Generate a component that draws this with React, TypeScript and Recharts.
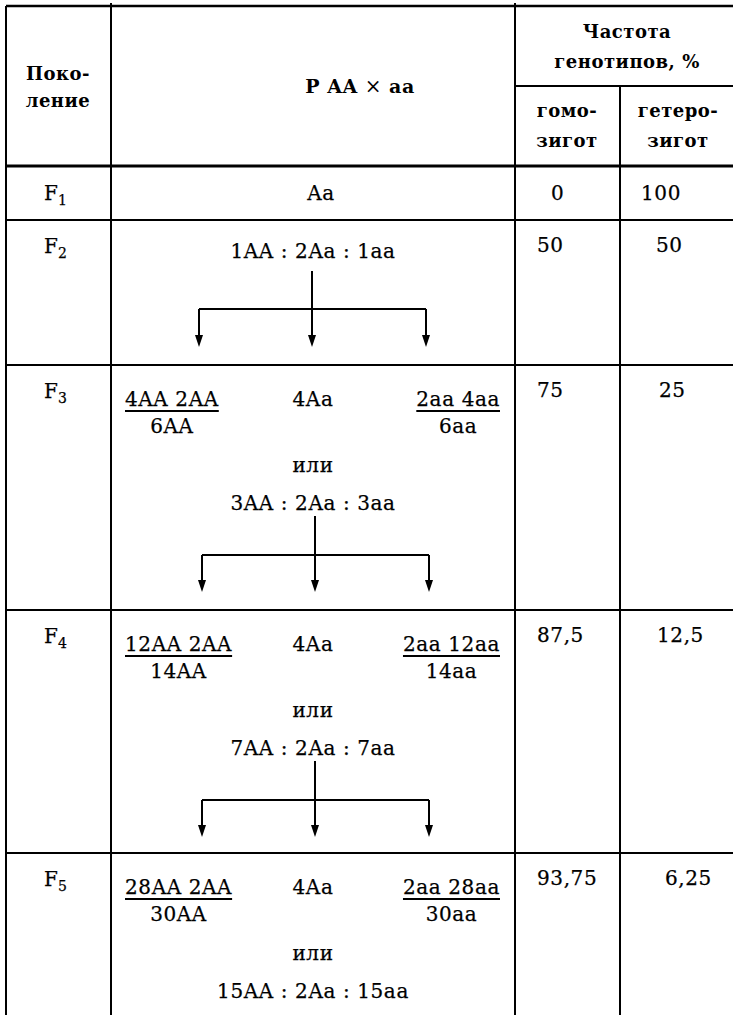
import React, { useLayoutEffect, useRef, useState } from "react";
import { ReferenceLine, Scatter, ScatterChart, XAxis, YAxis } from "recharts";

// table content
const HEADER_GEN = ["Поко-", "ление"];
const HEADER_FREQ = ["Частота", "генотипов, %"];
const HEADER_HOMO = ["гомо-", "зигот"];
const HEADER_HETERO = ["гетеро-", "зигот"];
const CROSS = ["P AA ", "×", " aa"];
const GENERATIONS = ["1", "2", "3", "4", "5"];
const F1_OFFSPRING = "Aa";
const RATIOS = ["1AA : 2Aa : 1aa", "3AA : 2Aa : 3aa", "7AA : 2Aa : 7aa", "15AA : 2Aa : 15aa"];
const DOMINANT_SUM = ["4AA 2AA", "12AA 2AA", "28AA 2AA"];
const DOMINANT_TOTAL = ["6AA", "14AA", "30AA"];
const HETERO_PART = ["4Aa", "4Aa", "4Aa"];
const RECESSIVE_SUM = ["2aa 4aa", "2aa 12aa", "2aa 28aa"];
const RECESSIVE_TOTAL = ["6aa", "14aa", "30aa"];
const OR_WORD = "или";
const HOMOZYGOUS = ["0", "50", "75", "87,5", "93,75"];
const HETEROZYGOUS = ["100", "50", "25", "12,5", "6,25"];

// layout
const W = 733;
const H = 1015;
const COL = { left: 6, gen: 111, cross: 515, het: 620, right: W };
const HEAD = { top: 6, split: 86, bottom: 166 };
const ROW_TOP = [166, 220, 365, 610, 853];
const GEN_BASE = [200, 253, 398, 643, 886];
const VALUE_BASE = [200, 252, 397, 642, 885];
const HOMO_X = [551, 537, 537, 537, 537];
const HET_X = [641, 656, 659, 657, 665];
const BRANCH_X = [
  [199, 312, 426],
  [202, 315, 429],
  [202, 315, 429],
];
const FONT = "'DejaVu Serif', serif";

const STYLES: Record<string, any> = {
  head: { fontSize: 18, fontWeight: 700, letterSpacing: 0.5, anchor: "middle" },
  body: { fontSize: 20, fontWeight: 400, letterSpacing: 0.6, anchor: "middle" },
  value: { fontSize: 20, fontWeight: 400, letterSpacing: 0.6, anchor: "start" },
  gen: { fontSize: 20, fontWeight: 400, letterSpacing: 0, anchor: "start" },
};

const ratioBase = (row: number) => (row === 1 ? 258 : ROW_TOP[row] + 145);
const stemTop = (row: number) => (row === 1 ? 271 : ROW_TOP[row] + 151);
const barY = (row: number) => (row === 1 ? 309 : ROW_TOP[row] + 190);
const tipY = (row: number) => (row === 1 ? 347 : ROW_TOP[row] + 227);

const labels: any[] = [
  ...HEADER_GEN.map((t, i) => ({ x: 58, y: 80 + i * 27, text: t, kind: "head" })),
  ...HEADER_FREQ.map((t, i) => ({ x: 627, y: 38 + i * 30, text: t, kind: "head" })),
  ...HEADER_HOMO.map((t, i) => ({ x: 567, y: 117 + i * 30, text: t, kind: "head" })),
  ...HEADER_HETERO.map((t, i) => ({ x: 678, y: 117 + i * 30, text: t, kind: "head" })),
  { x: 360, y: 93, text: "", kind: "cross" },
  ...GENERATIONS.map((g, i) => ({ x: 44, y: GEN_BASE[i], text: "F", sub: g, kind: "gen" })),
  ...HOMOZYGOUS.map((v, i) => ({ x: HOMO_X[i], y: VALUE_BASE[i], text: v, kind: "value" })),
  ...HETEROZYGOUS.map((v, i) => ({ x: HET_X[i], y: VALUE_BASE[i], text: v, kind: "value" })),
  { x: 321, y: 200, text: F1_OFFSPRING, kind: "body" },
  ...RATIOS.map((r, i) => ({ x: 313, y: ratioBase(i + 1), text: r, kind: "body" })),
  ...HETERO_PART.map((t, i) => ({ x: 313, y: ROW_TOP[i + 2] + 41, text: t, kind: "body" })),
  ...HETERO_PART.map((_, i) => ({ x: 313, y: ROW_TOP[i + 2] + 107, text: OR_WORD, kind: "body" })),
];

const fractions = [
  ...DOMINANT_SUM.map((n, i) => ({ x: 125, y: ROW_TOP[i + 2] + 41, num: n, den: DOMINANT_TOTAL[i], align: "start" })),
  ...RECESSIVE_SUM.map((n, i) => ({ x: 500, y: ROW_TOP[i + 2] + 41, num: n, den: RECESSIVE_TOTAL[i], align: "end" })),
];

const arrows = BRANCH_X.flatMap((xs, i) => xs.map((x) => ({ x, y: tipY(i + 1) })));

const gridLines = [
  { a: [COL.left, HEAD.top], b: [COL.right, HEAD.top], w: 2.5 },
  { a: [COL.cross, HEAD.split], b: [COL.right, HEAD.split], w: 2 },
  { a: [COL.left, HEAD.bottom], b: [COL.right, HEAD.bottom], w: 3 },
  ...ROW_TOP.slice(1).map((y) => ({ a: [COL.left, y], b: [COL.right, y], w: 2 })),
  { a: [COL.left, HEAD.top], b: [COL.left, H], w: 2 },
  { a: [COL.gen, 3], b: [COL.gen, H], w: 2 },
  { a: [COL.cross, 3], b: [COL.cross, H], w: 2 },
  { a: [COL.het, HEAD.split], b: [COL.het, H], w: 2 },
];

const treeLines = BRANCH_X.flatMap((xs, i) => {
  const row = i + 1;
  const bar = barY(row);
  return [
    { a: [xs[1], stemTop(row)], b: [xs[1], bar], w: 2 },
    { a: [xs[0], bar], b: [xs[2], bar], w: 2 },
    ...xs.map((x) => ({ a: [x, bar], b: [x, tipY(row) - 6], w: 2 })),
  ];
});

// faint outline makes DejaVu look closer to the heavier book face
const INK = { fill: "#000", stroke: "#000", strokeWidth: 0.25 };

function LabelMark(props: any) {
  const { cx, cy } = props;
  const p = props.payload ?? props;
  if (p.kind === "cross") {
    return (
      <text x={cx} y={cy} textAnchor="middle" fontFamily={FONT} fontSize={19} fontWeight={700} letterSpacing={0.5} fill="#000">
        <tspan>{CROSS[0]}</tspan>
        <tspan fontWeight={400} fontSize={20}>{CROSS[1]}</tspan>
        <tspan>{CROSS[2]}</tspan>
      </text>
    );
  }
  const s = STYLES[p.kind];
  return (
    <text
      x={cx}
      y={cy}
      textAnchor={s.anchor}
      fontFamily={FONT}
      fontSize={s.fontSize}
      fontWeight={s.fontWeight}
      letterSpacing={s.letterSpacing}
      {...(s.fontWeight === 400 ? INK : { fill: "#000" })}
    >
      {p.text}
      {p.sub && (
        <tspan fontSize={14} dy={5}>
          {p.sub}
        </tspan>
      )}
    </text>
  );
}

function FractionMark(props: any) {
  const { cx, cy } = props;
  const p = props.payload ?? props;
  const ref = useRef<SVGTextElement>(null);
  const [w, setW] = useState(0);
  useLayoutEffect(() => {
    if (ref.current) setW(ref.current.getComputedTextLength());
  }, [p.num]);
  const left = p.align === "start" ? cx : cx - w;
  const common = { fontFamily: FONT, fontSize: 20, letterSpacing: 0.6, ...INK };
  return (
    <g>
      <text ref={ref} x={left} y={cy} textAnchor="start" {...common}>
        {p.num}
      </text>
      <line x1={left} x2={left + w} y1={cy + 5} y2={cy + 5} stroke="#000" strokeWidth={2} />
      <text x={left + w / 2} y={cy + 27} textAnchor="middle" {...common}>
        {p.den}
      </text>
    </g>
  );
}

function ArrowMark(props: any) {
  const { cx, cy } = props;
  return <path d={`M${cx - 4},${cy - 12}L${cx + 4},${cy - 12}L${cx},${cy}Z`} fill="#000" />;
}

export default function App() {
  const all = [...gridLines, ...treeLines];
  return (
    <div style={{ position: "absolute", left: 0, top: 0, background: "#fff" }}>
      <ScatterChart width={W} height={H} margin={{ top: 0, right: 0, bottom: 0, left: 0 }}>
        <XAxis type="number" dataKey="x" domain={[0, W]} hide allowDataOverflow />
        <YAxis type="number" dataKey="y" domain={[0, H]} reversed hide allowDataOverflow />
        {all.map((l, i) => (
          <ReferenceLine
            key={i}
            segment={[
              { x: l.a[0], y: l.a[1] },
              { x: l.b[0], y: l.b[1] },
            ]}
            stroke="#000"
            strokeWidth={l.w}
            ifOverflow="visible"
          />
        ))}
        <Scatter data={arrows} isAnimationActive={false} shape={(p: any) => <ArrowMark {...p} />} />
        <Scatter data={labels} isAnimationActive={false} shape={(p: any) => <LabelMark {...p} />} />
        <Scatter data={fractions} isAnimationActive={false} shape={(p: any) => <FractionMark {...p} />} />
      </ScatterChart>
    </div>
  );
}
